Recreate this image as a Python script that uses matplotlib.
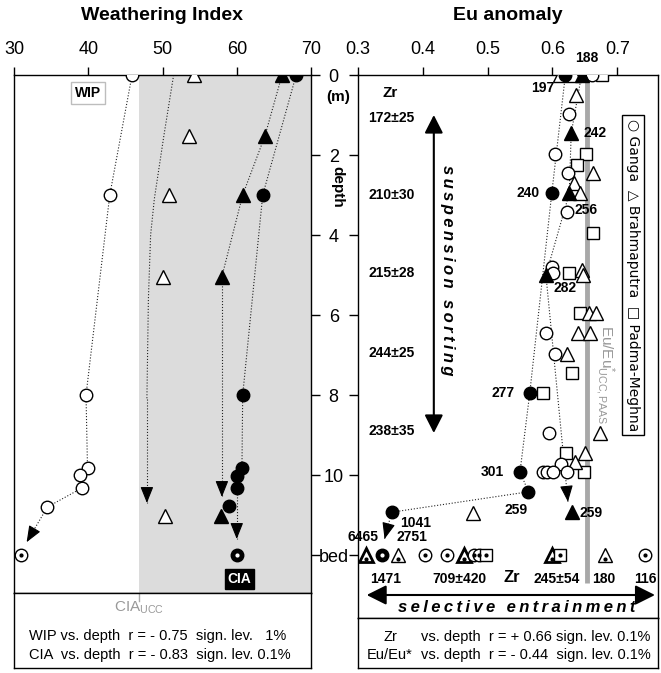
import matplotlib
matplotlib.use("Agg")
import numpy as np
import matplotlib.pyplot as plt

plt.rcParams['font.family'] = ['Liberation Sans', 'DejaVu Sans']
plt.rcParams['mathtext.fontset'] = 'custom'
plt.rcParams['mathtext.rm'] = 'Liberation Sans'
plt.rcParams['mathtext.it'] = 'Liberation Sans:italic'
plt.rcParams['mathtext.bf'] = 'Liberation Sans:bold'

# ---------------------------------------------------------------------------
# data
# ---------------------------------------------------------------------------
depth_ticks = [0, 2, 4, 6, 8, 10, 12]
depth_labels = ['0', '2', '4', '6', '8', '10', 'bed']

# weathering index panel (x = index, d = depth in m)
wip_ganga_x = [45.9, 42.9, 39.7, 39.9, 38.9, 39.2, 34.5]
wip_ganga_d = [0.0, 3.0, 8.0, 9.83, 10.0, 10.32, 10.8]
wip_brahm_x = [54.3, 53.6, 50.9, 50.0, 50.4]
wip_brahm_d = [0.0, 1.52, 3.0, 5.04, 11.03]
wip_trend_x = [51.5, 50.2, 48.9, 48.4, 48.1, 47.9, 47.9]
wip_trend_d = [0.0, 1.5, 3.1, 4.0, 5.6, 8.1, 10.7]
cia_ganga_x = [68.0, 63.5, 60.8, 60.7, 60.0, 60.0, 59.0]
cia_ganga_d = [0.0, 3.0, 8.0, 9.83, 10.02, 10.33, 10.77]
cia_brahm_x = [66.1, 63.8, 60.8, 58.0, 57.9]
cia_brahm_d = [0.0, 1.52, 3.0, 5.04, 11.03]
wip_bed = 31.0
cia_bed = 60.0
wip_arrow_tip = (31.7, 11.68)
cia_ganga_tip = (60.0, 11.6)
cia_brahm_tip = (58.0, 10.55)
cia_ucc = 46.9

# Eu anomaly panel
ganga_eu = [0.661, 0.626, 0.604, 0.624, 0.622, 0.599, 0.601, 0.590, 0.604,
            0.594, 0.614, 0.585, 0.591, 0.601, 0.622]
ganga_d = [0.0, 0.98, 1.98, 2.46, 3.42, 4.79, 4.96, 6.46, 6.98,
           8.94, 9.72, 9.92, 9.92, 9.92, 9.92]
brahm_eu = [0.612, 0.633, 0.636, 0.663, 0.633, 0.642, 0.645, 0.647, 0.657,
            0.667, 0.640, 0.658, 0.623, 0.673, 0.651, 0.635, 0.478]
brahm_d = [0.0, 0.0, 0.5, 2.46, 2.71, 2.96, 4.88, 5.0, 5.94,
           5.94, 6.44, 6.44, 6.98, 8.96, 9.44, 9.67, 10.94]
padma_eu = [0.676, 0.652, 0.638, 0.662, 0.626, 0.643, 0.630, 0.585, 0.621, 0.648]
padma_d = [0.0, 1.98, 2.25, 3.96, 4.96, 5.94, 7.44, 7.96, 9.44, 9.92]

zr_circ_eu = [0.620, 0.599, 0.565, 0.550, 0.563, 0.352]
zr_circ_d = [0.0, 2.96, 7.96, 9.92, 10.42, 10.93]
zr_circ_lab = ['197', '240', '277', '301', '259', '1041']
zr_circ_tip = (0.341, 11.6)
zr_tri_eu = [0.645, 0.629, 0.626, 0.590, 0.630]
zr_tri_d = [0.0, 1.46, 2.96, 5.0, 10.92]
zr_tri_lab = ['188', '242', '256', '282', '259']
zr_tri_tip = (0.624, 10.67)

bed_tri_eu = [0.313, 0.362, 0.463, 0.600, 0.681]
bed_tri_bold = [True, False, True, True, False]
bed_circ_eu = [0.403, 0.437, 0.479, 0.487, 0.743]
bed_fcirc_eu = [0.337]
bed_sq_eu = [0.497, 0.611]
bed_zr_lab = ['1471', '709±420', '245±54', '180', '116']
bed_zr_eu = [0.342, 0.457, 0.607, 0.679, 0.743]
bed_top_lab = ['6465', '2751']
bed_top_eu = [0.308, 0.383]

zr_group = ['172±25', '210±30', '215±28', '244±25', '238±35']
zr_group_d = [1.08, 3.0, 4.95, 6.95, 8.9]
eu_ref = 0.654

# label offsets (points) for the Zr numbers
circ_off = [(-16, -9), (-17, 0), (-19, 0), (-20, 0), (-9, -13), (17, -8)]
tri_off = [(4, 12), (17, 0), (12, -12), (14, -9), (14, -1)]

W, H = 661, 673


def box(l, t, r, b):
    return [l / W, 1 - b / H, (r - l) / W, (b - t) / H]


dot = dict(ls=':', lw=0.8, color='#222222', zorder=2)
op = dict(mfc='white', mec='k', mew=1.0, ls='none', zorder=4)
fl = dict(mfc='k', mec='k', mew=1.0, ls='none', zorder=4)


def arrow(ax, start, tip):
    # dotted shaft up to the tip, solid filled head on top
    ax.plot([start[0], tip[0]], [start[1], tip[1]], **dot)
    p0 = ax.transData.transform(start)
    p1 = ax.transData.transform(tip)
    u = (p1 - p0) / np.hypot(*(p1 - p0))
    ax.annotate('', xy=tip, xytext=(-u[0] * 13, -u[1] * 13), textcoords='offset pixels',
                arrowprops=dict(arrowstyle='-|>,head_length=0.5,head_width=0.2',
                                color='k', lw=0.8, mutation_scale=20,
                                shrinkA=0, shrinkB=0), zorder=3)


def spaced(s):
    return '\u2009'.join(s)


fig = plt.figure(figsize=(6.61, 6.73), dpi=100)
ax1 = fig.add_axes(box(14, 75, 311, 593))
ax1t = fig.add_axes(box(14, 593, 311, 668))
ax2 = fig.add_axes(box(358, 75, 658, 618))
ax2t = fig.add_axes(box(358, 618, 658, 668))
ax1.set_xlim(30, 70)
ax1.set_ylim(12.95, 0)
ax2.set_xlim(0.3, 0.3 + 300 / 648)
ax2.set_ylim(13.575, 0)

# ---------------- left panel ----------------
ax1.axvspan(cia_ucc, 70, color='#dcdcdc', zorder=0, lw=0)
ax1.plot(wip_ganga_x, wip_ganga_d, **dot)
arrow(ax1, (wip_ganga_x[-1], wip_ganga_d[-1]), wip_arrow_tip)
ax1.plot(wip_trend_x[:-1], wip_trend_d[:-1], **dot)
arrow(ax1, (wip_trend_x[-2], wip_trend_d[-2]), (wip_trend_x[-1], wip_trend_d[-1]))
ax1.plot(cia_ganga_x[:6], cia_ganga_d[:6], **dot)
arrow(ax1, (cia_ganga_x[5], cia_ganga_d[5]), cia_ganga_tip)
ax1.plot(cia_brahm_x[:4], cia_brahm_d[:4], **dot)
arrow(ax1, (cia_brahm_x[3], cia_brahm_d[3]), cia_brahm_tip)

ax1.plot(wip_ganga_x, wip_ganga_d, 'o', ms=9, **op)
ax1.plot(wip_brahm_x, wip_brahm_d, '^', ms=10, **op)
ax1.plot(cia_ganga_x, cia_ganga_d, 'o', ms=9, **fl)
ax1.plot(cia_brahm_x, cia_brahm_d, '^', ms=10, **fl)
ax1.plot([wip_bed], [12], 'o', ms=9, **op)
ax1.plot([wip_bed], [12], 'o', ms=2, color='k', zorder=5)
ax1.plot([cia_bed], [12], 'o', ms=9, **fl)
ax1.plot([cia_bed], [12], 'o', ms=2, color='white', zorder=5)

ax1.text(40.0, 0.45, 'WIP', ha='center', va='center', fontsize=10, weight='bold',
         bbox=dict(boxstyle='square,pad=0.3', fc='white', ec='#bdbdbd', lw=1))
ax1.text(60.4, 12.6, 'CIA', ha='center', va='center', fontsize=10, weight='bold',
         color='white', bbox=dict(boxstyle='square,pad=0.2', fc='k', ec='k'))

ax1.xaxis.tick_top()
ax1.set_xticks([30, 40, 50, 60, 70])
ax1.tick_params(axis='x', direction='out', length=6, width=1, pad=6, labelsize=13)
ax1.yaxis.tick_right()
ax1.set_yticks(depth_ticks)
ax1.set_yticklabels([])
ax1.tick_params(axis='y', direction='out', length=6.5, width=1)

ax1t.set_xlim(30, 70)
ax1t.set_ylim(0, 1)
ax1t.set_xticks([])
ax1t.set_yticks([])
ax1t.plot([cia_ucc, cia_ucc], [1, 0.9], color='#aaaaaa', lw=1)
ax1t.text(cia_ucc, 0.8, r'CIA$_{\mathrm{UCC}}$', color='#999999', ha='center',
          va='center', fontsize=11)
ax1t.text(0.05, 0.43, 'WIP vs. depth  r = - 0.75  sign. lev.   1%',
          transform=ax1t.transAxes, fontsize=10.5, va='center')
ax1t.text(0.05, 0.17, 'CIA  vs. depth  r = - 0.83  sign. lev. 0.1%',
          transform=ax1t.transAxes, fontsize=10.5, va='center')

# ---------------- right panel ----------------
ax2.plot([eu_ref, eu_ref], [0, 12.7], color='#a8a8a8', lw=3.5, zorder=1,
         solid_capstyle='butt')
ax2.plot(zr_circ_eu, zr_circ_d, **dot)
arrow(ax2, (zr_circ_eu[-1], zr_circ_d[-1]), zr_circ_tip)
ax2.plot(zr_tri_eu[:4], zr_tri_d[:4], **dot)
arrow(ax2, (zr_tri_eu[3], zr_tri_d[3]), zr_tri_tip)

ax2.plot(padma_eu, padma_d, 's', ms=8, **op)
ax2.plot(brahm_eu, brahm_d, '^', ms=10, **op)
ax2.plot(ganga_eu, ganga_d, 'o', ms=9, **op)
ax2.plot(zr_circ_eu, zr_circ_d, 'o', ms=9, **fl)
ax2.plot(zr_tri_eu, zr_tri_d, '^', ms=10, **fl)

for v, lab, off in zip(zip(zr_circ_eu, zr_circ_d), zr_circ_lab, circ_off):
    ax2.annotate(lab, v, xytext=off, textcoords='offset points', ha='center',
                 va='center', fontsize=10, weight='bold')
for v, lab, off in zip(zip(zr_tri_eu, zr_tri_d), zr_tri_lab, tri_off):
    ax2.annotate(lab, v, xytext=off, textcoords='offset points', ha='center',
                 va='center', fontsize=10, weight='bold')

# river bed samples
for x, bold in zip(bed_tri_eu, bed_tri_bold):
    ax2.plot([x], [12], '^', ms=10, mfc='white', mec='k', mew=2.0 if bold else 1.0,
             zorder=4)
    ax2.plot([x], [12.1], 'o', ms=2, color='k', zorder=5)
ax2.plot(bed_circ_eu, [12] * len(bed_circ_eu), 'o', ms=9, **op)
ax2.plot(bed_circ_eu, [12] * len(bed_circ_eu), 'o', ms=2, color='k', ls='none', zorder=5)
ax2.plot(bed_sq_eu, [12] * len(bed_sq_eu), 's', ms=8, **op)
ax2.plot(bed_sq_eu, [12] * len(bed_sq_eu), 'o', ms=2, color='k', ls='none', zorder=5)
ax2.plot(bed_fcirc_eu, [12], 'o', ms=9, **fl)
ax2.plot(bed_fcirc_eu, [12], 'o', ms=2, color='white', zorder=5)

for x, lab in zip(bed_zr_eu, bed_zr_lab):
    ax2.text(x, 12.6, lab, ha='center', va='center', fontsize=10, weight='bold')
ax2.text(0.537, 12.57, 'Zr', ha='center', va='center', fontsize=12, weight='bold')
for x, lab in zip(bed_top_eu, bed_top_lab):
    ax2.text(x, 11.55, lab, ha='center', va='center', fontsize=10, weight='bold')

ax2.text(0.349, 0.45, 'Zr', ha='center', va='center', fontsize=11, weight='bold')
for d, lab in zip(zr_group_d, zr_group):
    ax2.text(0.352, d, lab, ha='center', va='center', fontsize=10, weight='bold')

ax2.annotate('', xy=(0.417, 1.0), xytext=(0.417, 8.95),
             arrowprops=dict(arrowstyle='<|-|>,head_length=0.55,head_width=0.28',
                             color='k', lw=1.5, mutation_scale=20, shrinkA=0, shrinkB=0))
ax2.text(0.438, 4.88, spaced('suspension sorting'), rotation=-90, ha='center',
         va='center', fontsize=12, weight='bold', style='italic')
ax2.annotate('', xy=(0.3134, 13.0), xytext=(0.7583, 13.0),
             arrowprops=dict(arrowstyle='<|-|>,head_length=0.6,head_width=0.3',
                             color='k', lw=1.5, mutation_scale=20, shrinkA=0, shrinkB=0))
ax2.text(0.545, 13.3, spaced('selective entrainment'), ha='center', va='center',
         fontsize=12, weight='bold', style='italic')

ax2.text(0.7244, 5.0, '○ Ganga  △ Brahmaputra  □ Padma-Meghna', rotation=-90,
         ha='center', va='center', fontsize=10, family='DejaVu Sans',
         bbox=dict(boxstyle='square,pad=0.3', fc='white', ec='k', lw=1))
ax2.text(0.68, 7.5, r'Eu/Eu$^{*}_{\mathrm{UCC,PAAS}}$', rotation=-90, ha='center',
         va='center', fontsize=11, color='#999999')

ax2.xaxis.tick_top()
ax2.set_xticks([0.3, 0.4, 0.5, 0.6, 0.7])
ax2.set_xticklabels(['0.3', '0.4', '0.5', '0.6', '0.7'])
ax2.tick_params(axis='x', direction='out', length=6, width=1, pad=6, labelsize=13)
ax2.set_yticks(depth_ticks)
ax2.set_yticklabels(depth_labels)
ax2.tick_params(axis='y', direction='out', length=6.5, width=1, pad=11, labelsize=13)
plt.setp(ax2.get_yticklabels(), ha='center')

ax2t.set_xticks([])
ax2t.set_yticks([])
ax2t.text(0.107, 0.62, 'Zr', transform=ax2t.transAxes, ha='center', va='center',
          fontsize=10.5)
ax2t.text(0.107, 0.26, 'Eu/Eu*', transform=ax2t.transAxes, ha='center', va='center',
          fontsize=10.5)
ax2t.text(0.21, 0.62, 'vs. depth  r = + 0.66 sign. lev. 0.1%', transform=ax2t.transAxes,
          va='center', fontsize=10.5)
ax2t.text(0.21, 0.26, 'vs. depth  r = - 0.44  sign. lev. 0.1%', transform=ax2t.transAxes,
          va='center', fontsize=10.5)

for a in (ax1, ax1t, ax2, ax2t):
    for s in a.spines.values():
        s.set_linewidth(1.0)

fig.text(162 / W, 1 - 15 / H, 'Weathering Index', ha='center', va='center',
         fontsize=14, weight='bold')
fig.text(508 / W, 1 - 15 / H, 'Eu anomaly', ha='center', va='center',
         fontsize=14, weight='bold')
fig.text(338 / W, 1 - 97 / H, '(m)', ha='center', va='center', fontsize=11,
         weight='bold')
fig.text(337 / W, 1 - 187 / H, 'depth', ha='center', va='center', fontsize=11,
         weight='bold', rotation=-90)

fig.savefig('out.png', dpi=100)
